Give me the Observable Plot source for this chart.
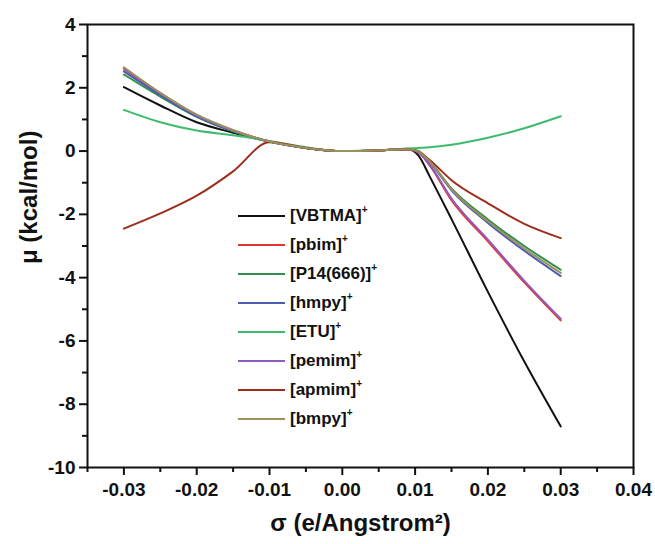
<!DOCTYPE html>
<html>
<head>
<meta charset="utf-8">
<script src="https://cdn.jsdelivr.net/npm/d3@7"></script>
<script src="https://cdn.jsdelivr.net/npm/@observablehq/plot@0.6"></script>
<style>
  body { margin: 0; background: #fff; }
  #wrap { position: relative; width: 655px; height: 544px; font-family: "Liberation Sans", Arial, sans-serif; }
  #wrap svg g[aria-label="x-axis tick label"] text,
  #wrap svg g[aria-label="y-axis tick label"] text { font-size: 19px !important; font-weight: bold; }
  #legend { position: absolute; left: 238px; top: 201px; font-weight: bold; font-size: 17px; color: #111; }
  #legend .row { height: 29px; display: flex; align-items: center; }
  #legend .sw { width: 47px; height: 0; border-top: 2px solid; margin-right: 5px; }
  #legend sup { font-size: 10px; vertical-align: 8px; line-height: 0; }
</style>
</head>
<body>
<div id="wrap"></div>
<script>
const sigma = [-0.03, -0.025, -0.02, -0.015, -0.01, -0.005, 0, 0.005, 0.009, 0.0105, 0.012, 0.015, 0.02, 0.025, 0.03];

const seriesNames = ["[VBTMA]", "[pbim]", "[P14(666)]", "[hmpy]", "[ETU]", "[pemim]", "[apmim]", "[bmpy]"];
const seriesColors = ["#111111", "#e8352b", "#2f8f4e", "#4a5cb4", "#3dbb6c", "#8c5cc4", "#9c2f1c", "#9c9158"];

const VBTMA = [2.02, 1.44, 0.91, 0.58, 0.30, 0.10, 0.00, 0.02, 0.06, -0.15, -0.80, -2.15, -4.45, -6.65, -8.70];
const pbim  = [2.60, 1.82, 1.13, 0.65, 0.30, 0.10, 0.00, 0.02, 0.06, -0.05, -0.45, -1.55, -2.85, -4.15, -5.35];
const P14   = [2.42, 1.72, 1.08, 0.62, 0.30, 0.10, 0.00, 0.02, 0.07, 0.00, -0.32, -1.18, -2.16, -3.00, -3.75];
const hmpy  = [2.52, 1.77, 1.10, 0.63, 0.30, 0.10, 0.00, 0.02, 0.06, -0.02, -0.35, -1.24, -2.27, -3.15, -3.95];
const ETU   = [1.30, 0.91, 0.65, 0.50, 0.32, 0.12, 0.00, 0.03, 0.08, 0.10, 0.12, 0.20, 0.42, 0.72, 1.10];
const pemim = [2.62, 1.83, 1.14, 0.66, 0.30, 0.10, 0.00, 0.02, 0.06, -0.05, -0.43, -1.50, -2.80, -4.10, -5.30];
const apmim = [-2.45, -1.97, -1.41, -0.64, 0.28, 0.10, 0.00, 0.02, 0.06, -0.02, -0.28, -0.92, -1.65, -2.30, -2.75];
const bmpy  = [2.65, 1.84, 1.15, 0.66, 0.30, 0.10, 0.00, 0.02, 0.06, -0.02, -0.33, -1.21, -2.22, -3.08, -3.85];

const seriesValues = [VBTMA, pbim, P14, hmpy, ETU, pemim, apmim, bmpy];

const xMajor = [-0.03, -0.02, -0.01, 0, 0.01, 0.02, 0.03, 0.04];
const xMinor = [-0.035, -0.025, -0.015, -0.005, 0.005, 0.015, 0.025, 0.035];
const yMajor = [-10, -8, -6, -4, -2, 0, 2, 4];
const yMinor = [-9, -7, -5, -3, -1, 1, 3];

const rows = [];
seriesNames.forEach((name, i) => {
  seriesValues[i].forEach((v, j) => rows.push({ name, sigma: sigma[j], mu: v }));
});

const font = "Liberation Sans, Arial, sans-serif";

const chart = Plot.plot({
  width: 655,
  height: 544,
  marginLeft: 87,
  marginRight: 22,
  marginTop: 24,
  marginBottom: 77,
  style: { fontFamily: font, fontWeight: "bold", fontSize: "19px", color: "#111", background: "white" },
  x: { domain: [-0.035, 0.04] },
  y: { domain: [-10, 4] },
  color: { domain: seriesNames, range: seriesColors },
  marks: [
    ...seriesNames.map((name) =>
      Plot.line(rows.filter(r => r.name === name), {
        x: "sigma", y: "mu", stroke: "name", strokeWidth: 2, curve: "monotone-x"
      })
    ),
    Plot.frame({ stroke: "#111", strokeWidth: 2 }),
    Plot.axisX({ ticks: xMajor, tickSize: 8, strokeWidth: 2, tickPadding: 7,
      tickFormat: d => d.toFixed(2), label: null }),
    Plot.axisX({ ticks: xMinor, tickSize: 5, strokeWidth: 2, tickFormat: () => "", label: null }),
    Plot.axisY({ ticks: yMajor, tickSize: 8, strokeWidth: 2, tickPadding: 4,
      tickFormat: d => String(d), label: null }),
    Plot.axisY({ ticks: yMinor, tickSize: 5, strokeWidth: 2, tickFormat: () => "", label: null }),
    Plot.text(["σ (e/Angstrom²)"], { frameAnchor: "bottom", dy: 63, fontSize: 24, fontWeight: "bold", text: d => d }),
    Plot.text(["μ (kcal/mol)"], { frameAnchor: "left", dx: -58, dy: 18, rotate: -90, fontSize: 24, fontWeight: "bold", text: d => d })
  ]
});

const wrap = document.getElementById("wrap");
chart.style.position = "absolute";
chart.style.left = "0";
chart.style.top = "0";
wrap.appendChild(chart);

const legend = document.createElement("div");
legend.id = "legend";
seriesNames.forEach((name, i) => {
  const row = document.createElement("div");
  row.className = "row";
  const sw = document.createElement("span");
  sw.className = "sw";
  sw.style.borderTopColor = seriesColors[i];
  const label = document.createElement("span");
  label.innerHTML = name + "<sup>+</sup>";
  row.appendChild(sw);
  row.appendChild(label);
  legend.appendChild(row);
});
wrap.appendChild(legend);
</script>
</body>
</html>
